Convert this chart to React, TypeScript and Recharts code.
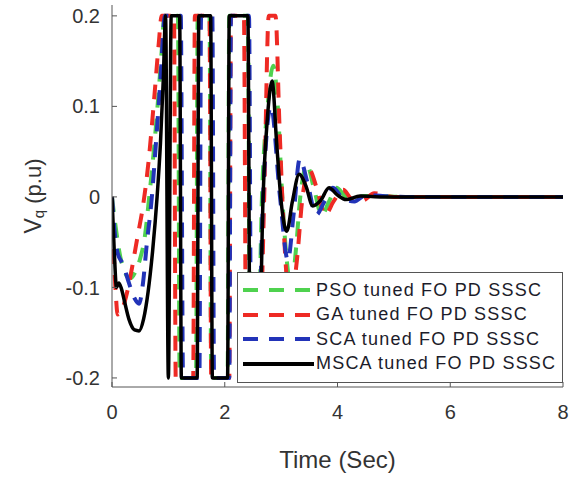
import { LineChart, Line, XAxis, YAxis, Legend } from 'recharts';

// time (s) and Vq (p.u), one pair of arrays per controller
const T_PSO = [0, 0.08, 0.16, 0.24, 0.32, 0.42, 0.5, 0.58, 0.66, 0.74, 0.82, 0.88, 0.93, 1.17, 1.2, 1.49, 1.52, 1.73, 1.76, 2.05, 2.08, 2.41, 2.45, 2.58, 2.66, 2.76, 2.86, 2.94, 3.02, 3.1, 3.18, 3.26, 3.34, 3.46, 3.58, 3.72, 3.85, 3.98, 4.12, 4.25, 4.45, 4.7, 5.2, 8];
const V_PSO = [0, -0.04, -0.07, -0.085, -0.09, -0.082, -0.068, -0.045, 0.0, 0.05, 0.11, 0.16, 0.2, 0.2, -0.2, -0.2, 0.2, 0.2, -0.2, -0.2, 0.2, 0.2, -0.2, -0.2, 0.0, 0.1, 0.145, 0.1, 0.0, -0.07, -0.1, -0.06, 0.0, 0.035, 0.01, -0.02, -0.005, 0.01, 0.002, -0.004, 0.001, 0.001, 0, 0];

const T_GA = [0, 0.03, 0.07, 0.1, 0.15, 0.25, 0.35, 0.45, 0.55, 0.65, 0.75, 0.83, 0.88, 1.1, 1.13, 1.44, 1.47, 1.73, 1.76, 2.08, 2.11, 2.34, 2.38, 2.6, 2.7, 2.78, 2.9, 2.97, 3.05, 3.16, 3.28, 3.38, 3.5, 3.63, 3.78, 3.93, 4.1, 4.25, 4.45, 4.65, 5.0, 8];
const V_GA = [0, -0.06, -0.11, -0.13, -0.128, -0.11, -0.08, -0.045, -0.01, 0.04, 0.11, 0.17, 0.2, 0.2, -0.2, -0.2, 0.2, 0.2, -0.2, -0.2, 0.2, 0.2, -0.2, -0.2, 0.0, 0.2, 0.2, 0.08, -0.04, -0.12, -0.07, 0.0, 0.03, 0.01, -0.02, -0.005, 0.008, -0.002, -0.004, 0.004, 0, 0];

const T_SCA = [0, 0.05, 0.1, 0.2, 0.3, 0.4, 0.48, 0.55, 0.62, 0.7, 0.78, 0.86, 0.94, 1.22, 1.26, 1.55, 1.58, 1.78, 1.81, 2.08, 2.11, 2.43, 2.47, 2.58, 2.68, 2.82, 2.98, 3.12, 3.22, 3.33, 3.47, 3.62, 3.77, 3.92, 4.1, 4.3, 4.5, 4.8, 5.3, 8];
const V_SCA = [0, -0.04, -0.062, -0.075, -0.095, -0.112, -0.118, -0.095, -0.05, -0.005, 0.06, 0.13, 0.2, 0.2, -0.2, -0.2, 0.2, 0.2, -0.2, -0.2, 0.2, 0.2, -0.2, -0.2, 0.0, 0.1, 0.0, -0.07, -0.02, 0.042, 0.015, -0.02, -0.005, 0.01, -0.002, -0.005, 0.002, 0.001, 0, 0];

const T_MSCA = [0, 0.04, 0.08, 0.12, 0.16, 0.22, 0.3, 0.4, 0.48, 0.56, 0.64, 0.72, 0.8, 0.86, 0.91, 0.95, 1.0, 1.05, 1.2, 1.23, 1.51, 1.54, 1.75, 1.78, 2.05, 2.08, 2.41, 2.45, 2.6, 2.68, 2.76, 2.84, 2.92, 3.0, 3.1, 3.2, 3.32, 3.44, 3.56, 3.7, 3.85, 4.0, 4.15, 4.4, 4.8, 5.5, 8];
const V_MSCA = [0, -0.06, -0.1, -0.095, -0.1, -0.115, -0.135, -0.147, -0.148, -0.135, -0.105, -0.06, 0.0, 0.06, 0.13, 0.2, -0.2, 0.2, 0.2, -0.2, -0.2, 0.2, 0.2, -0.2, -0.2, 0.2, 0.2, -0.2, -0.2, 0.0, 0.09, 0.128, 0.06, -0.005, -0.038, -0.005, 0.025, 0.012, -0.01, -0.004, 0.01, 0.002, -0.003, 0.001, 0, 0, 0];

const X_TICKS = [0, 2, 4, 6, 8];
const Y_TICKS = [-0.2, -0.1, 0, 0.1, 0.2];

const SERIES = [
  { name: 'PSO tuned FO PD SSSC', t: T_PSO, v: V_PSO, color: '#4fd24f', dash: '15 11', width: 4 },
  { name: 'GA tuned FO PD SSSC', t: T_GA, v: V_GA, color: '#ee2a24', dash: '15 11', width: 4 },
  { name: 'SCA tuned FO PD SSSC', t: T_SCA, v: V_SCA, color: '#2233b8', dash: '15 11', width: 4 },
  { name: 'MSCA tuned FO PD SSSC', t: T_MSCA, v: V_MSCA, color: '#000000', dash: undefined, width: 3.5 },
];

const toPoints = (t: number[], v: number[]) => t.map((x, i) => ({ t: x, v: v[i] }));

const FRAME = '#555';
const TEXT = '#333';

function LegendBox() {
  return (
    <div
      style={{
        width: 326,
        height: 111,
        boxSizing: 'border-box',
        border: `1px solid ${FRAME}`,
        background: '#fff',
        paddingTop: 5,
      }}
    >
      {SERIES.map((s) => (
        <div key={s.name} style={{ display: 'flex', alignItems: 'center', height: 24.5 }}>
          <svg width={78} height={10} style={{ flex: 'none' }}>
            <line x1={5} x2={76} y1={5} y2={5} stroke={s.color} strokeWidth={4} strokeDasharray={s.dash} />
          </svg>
          <span style={{ fontSize: 18, letterSpacing: 1.2, color: '#1c1c2a', whiteSpace: 'nowrap' }}>
            {s.name}
          </span>
        </div>
      ))}
    </div>
  );
}

function YLabel() {
  return (
    <text x={41} y={196} transform="rotate(-90 41 196)" textAnchor="middle" fill={TEXT}>
      <tspan fontSize={23}>V</tspan>
      <tspan fontSize={15} dy={3}>q</tspan>
      <tspan fontSize={22} dy={-3}> (p.u)</tspan>
    </text>
  );
}

export default function App() {
  return (
    <div
      style={{
        position: 'absolute',
        left: 0,
        top: 0,
        width: 571,
        height: 478,
        background: '#fff',
        fontFamily: '"Liberation Sans", Arial, sans-serif',
      }}
    >
      <LineChart width={571} height={478} margin={{ top: 5, right: 8, bottom: 0, left: 0 }}>
        <XAxis
          dataKey="t"
          type="number"
          domain={[0, 8]}
          ticks={X_TICKS}
          allowDataOverflow
          height={91}
          stroke={FRAME}
          tickSize={-5}
          tickMargin={23}
          tick={{ fontSize: 20, fill: TEXT }}
          label={{ value: 'Time (Sec)', position: 'insideBottom', offset: 10, fontSize: 24, fill: TEXT }}
        />
        <XAxis
          xAxisId="top"
          orientation="top"
          type="number"
          domain={[0, 8]}
          ticks={X_TICKS}
          height={0}
          stroke={FRAME}
          tickSize={-5}
          tick={false}
        />
        <YAxis
          type="number"
          domain={[-0.21, 0.212]}
          ticks={Y_TICKS}
          allowDataOverflow
          width={112}
          stroke={FRAME}
          tickSize={-5}
          tickMargin={17}
          tick={{ fontSize: 20, fill: TEXT }}
          tickFormatter={(v: number) => (v === 0 ? '0' : String(v))}
          label={{ content: () => <YLabel /> }}
        />
        <YAxis
          yAxisId="right"
          orientation="right"
          type="number"
          domain={[-0.21, 0.212]}
          ticks={Y_TICKS}
          width={0}
          stroke={FRAME}
          tickSize={-5}
          tick={false}
        />
        {SERIES.map((s) => (
          <Line
            key={s.name}
            data={toPoints(s.t, s.v)}
            dataKey="v"
            type="monotone"
            stroke={s.color}
            strokeWidth={s.width}
            strokeDasharray={s.dash}
            dot={false}
            activeDot={false}
            isAnimationActive={false}
          />
        ))}
        <Legend
          layout="vertical"
          align="center"
          verticalAlign="middle"
          content={() => <LegendBox />}
          wrapperStyle={{ left: 237, top: 272, width: 326, height: 111 }}
        />
      </LineChart>
    </div>
  );
}
